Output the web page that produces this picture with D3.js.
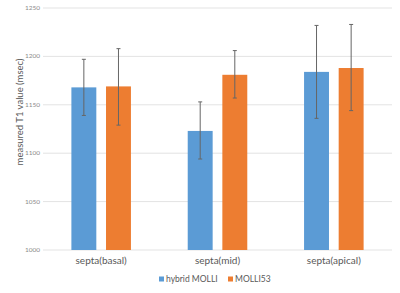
<!DOCTYPE html>
<html>
<head>
<meta charset="utf-8">
<script src="https://cdn.jsdelivr.net/npm/d3@7"></script>
<style>
  body { margin: 0; background: #fff; }
  svg { display: block; font-family: Lato, "Open Sans", sans-serif; }
</style>
</head>
<body>
<div id="chart"></div>
<script>
// ─── Data ───
const categories = ["septa(basal)", "septa(mid)", "septa(apical)"];
const seriesNames = ["hybrid MOLLI", "MOLLI53"];
const colors = ["#5b9bd5", "#ed7d31"];
const hybridMean = [1168, 1123, 1184];
const hybridLow  = [1139, 1094, 1136];
const hybridHigh = [1197, 1153, 1232];
const molliMean  = [1169, 1181, 1188];
const molliLow   = [1129, 1157, 1144];
const molliHigh  = [1208, 1206, 1233];
const yTicks = [1000, 1050, 1100, 1150, 1200, 1250];

const width = 400, height = 293;
const margin = { top: 8, right: 8, bottom: 43, left: 43 };

const svg = d3.select("#chart").append("svg")
  .attr("width", width).attr("height", height);

const x = d3.scaleBand().domain(categories)
  .range([margin.left, width - margin.right]).paddingInner(0).paddingOuter(0);
const x1 = d3.scaleBand().domain(seriesNames)
  .range([0, x.bandwidth()]).paddingInner(0.28).paddingOuter(0.82);
const y = d3.scaleLinear().domain([1000, 1250])
  .range([height - margin.bottom, margin.top]);

// gridlines
svg.append("g")
  .selectAll("line").data(yTicks).enter().append("line")
    .attr("x1", margin.left).attr("x2", width - margin.right)
    .attr("y1", d => y(d)).attr("y2", d => y(d))
    .attr("stroke", "#e3e3e3").attr("stroke-width", 1);

// y tick labels
svg.append("g")
  .selectAll("text").data(yTicks).enter().append("text")
    .attr("x", margin.left - 3).attr("y", d => y(d) + 2)
    .attr("text-anchor", "end")
    .attr("font-size", 6.5).attr("fill", "#8a8a8a")
    .text(d => d);

// y axis title
svg.append("text")
  .attr("transform", "translate(23,112) rotate(-90)")
  .attr("text-anchor", "middle")
  .attr("font-size", 9.5).attr("fill", "#595959")
  .text("measured T1 value (msec)");

// bars
const rows = categories.map((c, i) => ({
  cat: c,
  vals: [
    { s: seriesNames[0], v: hybridMean[i], lo: hybridLow[i], hi: hybridHigh[i], col: colors[0] },
    { s: seriesNames[1], v: molliMean[i],  lo: molliLow[i],  hi: molliHigh[i],  col: colors[1] }
  ]
}));

const groups = svg.append("g").selectAll("g").data(rows).enter().append("g")
  .attr("transform", d => `translate(${x(d.cat)},0)`);

groups.selectAll("rect").data(d => d.vals).enter().append("rect")
  .attr("x", d => x1(d.s)).attr("width", x1.bandwidth())
  .attr("y", d => y(d.v)).attr("height", d => y(1000) - y(d.v))
  .attr("fill", d => d.col);

// error bars
const eb = groups.selectAll("g.err").data(d => d.vals).enter().append("g")
  .attr("class", "err")
  .attr("transform", d => `translate(${x1(d.s) + x1.bandwidth() / 2},0)`);
eb.append("line")
  .attr("y1", d => y(d.lo)).attr("y2", d => y(d.hi))
  .attr("stroke", "#666").attr("stroke-width", 1);
eb.selectAll("line.cap").data(d => [d.lo, d.hi]).enter().append("line")
  .attr("class", "cap")
  .attr("x1", -2).attr("x2", 2)
  .attr("y1", d => y(d)).attr("y2", d => y(d))
  .attr("stroke", "#666").attr("stroke-width", 1);

// x labels
svg.append("g").selectAll("text").data(categories).enter().append("text")
  .attr("x", d => x(d) + x.bandwidth() / 2)
  .attr("y", y(1000) + 14)
  .attr("text-anchor", "middle")
  .attr("font-size", 10).attr("fill", "#595959")
  .text(d => d);

// legend
const legendX = [159, 228];
const legend = svg.append("g").selectAll("g").data(seriesNames).enter().append("g")
  .attr("transform", (d, i) => `translate(${legendX[i]},279)`);
legend.append("rect")
  .attr("x", 0).attr("y", -2.5).attr("width", 5).attr("height", 5)
  .attr("fill", (d, i) => colors[i]);
legend.append("text")
  .attr("x", 7).attr("y", 3)
  .attr("font-size", 8.5).attr("fill", "#595959")
  .text(d => d);
</script>
</body>
</html>
